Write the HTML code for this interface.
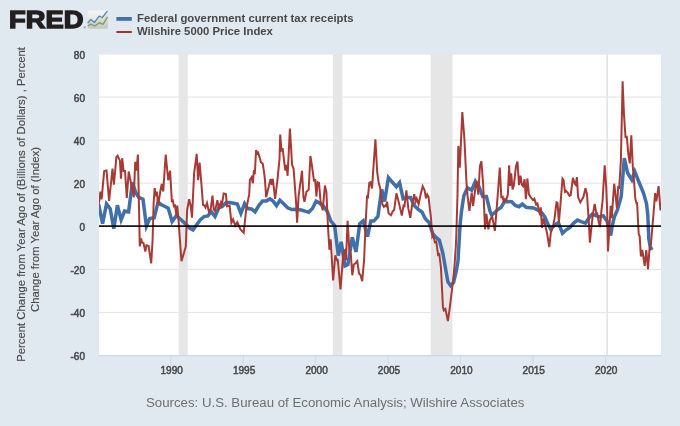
<!DOCTYPE html>
<html><head><meta charset="utf-8"><title>FRED Graph</title>
<style>
html,body{margin:0;padding:0;background:#e1e9f0;}
body{width:680px;height:426px;overflow:hidden;}
svg{display:block;will-change:transform;transform:translateZ(0);font-family:"Liberation Sans",Arial,Helvetica,sans-serif;}
.ax text{font-size:10.05px;fill:#484848;stroke:#484848;stroke-width:0.5px;}
</style></head><body>
<svg width="680" height="426" viewBox="0 0 680 426">
<defs>
<linearGradient id="ig" x1="0" y1="0" x2="0" y2="1"><stop offset="0" stop-color="#f6f6f5"/><stop offset="0.5" stop-color="#e6e6e5"/><stop offset="1" stop-color="#cfd0d0"/></linearGradient>
<clipPath id="pc"><rect x="99.0" y="54.0" width="562.0" height="301.3"/></clipPath>
</defs>
<rect x="0" y="0" width="680" height="426" fill="#e1e9f0"/>
<rect x="99.0" y="54.0" width="562.0" height="301.3" fill="#ffffff"/>
<rect x="178.7" y="54.0" width="9.1" height="301.3" fill="#e6e6e6"/><rect x="332.9" y="54.0" width="9.5" height="301.3" fill="#e6e6e6"/><rect x="430.7" y="54.0" width="21.8" height="301.3" fill="#e6e6e6"/><rect x="606.3" y="54.0" width="1.7" height="301.3" fill="#e6e6e6"/>
<rect x="99.0" y="53.38" width="562.0" height="1.2" fill="#e6e6e6"/><rect x="99.0" y="96.47" width="562.0" height="1.2" fill="#e6e6e6"/><rect x="99.0" y="139.55" width="562.0" height="1.2" fill="#e6e6e6"/><rect x="99.0" y="182.64" width="562.0" height="1.2" fill="#e6e6e6"/><rect x="99.0" y="268.82" width="562.0" height="1.2" fill="#e6e6e6"/><rect x="99.0" y="311.91" width="562.0" height="1.2" fill="#e6e6e6"/>
<rect x="99.0" y="355.0" width="562.0" height="1.2" fill="#ccd6eb"/>
<rect x="170.4" y="355.3" width="1" height="9.5" fill="#ccd6eb"/><rect x="242.8" y="355.3" width="1" height="9.5" fill="#ccd6eb"/><rect x="315.2" y="355.3" width="1" height="9.5" fill="#ccd6eb"/><rect x="387.7" y="355.3" width="1" height="9.5" fill="#ccd6eb"/><rect x="460.1" y="355.3" width="1" height="9.5" fill="#ccd6eb"/><rect x="532.5" y="355.3" width="1" height="9.5" fill="#ccd6eb"/><rect x="604.9" y="355.3" width="1" height="9.5" fill="#ccd6eb"/>
<g clip-path="url(#pc)">
<polyline fill="none" stroke="#4070aa" stroke-width="3.5" stroke-linejoin="miter" stroke-miterlimit="4.0" stroke-linecap="butt" points="98.6,204.4 102.6,223.6 106.5,203.9 110.2,208.8 113.8,228.7 117.4,205.3 121.1,219.9 124.6,211.0 128.6,211.8 132.4,182.6 135.8,192.8 138.7,197.3 143.0,199.2 146.4,226.2 149.7,218.5 154.2,217.7 158.1,202.1 160.8,204.4 164.5,206.2 168.2,208.1 172.1,221.5 176.4,215.6 180.0,218.7 183.8,222.2 186.8,225.2 190.0,228.3 193.0,229.9 196.7,224.8 200.4,219.6 204.1,216.6 207.8,215.9 211.4,211.7 215.0,216.5 218.8,207.8 222.5,206.3 226.2,202.6 229.9,202.6 233.6,203.3 237.3,204.1 240.9,213.4 244.6,203.6 247.7,208.5 251.4,208.9 255.1,211.8 258.8,205.5 262.5,201.1 266.2,201.1 269.9,198.9 273.1,201.1 276.5,205.7 279.9,200.3 283.9,204.1 287.6,207.8 291.7,209.5 295.4,209.2 301.3,210.0 305.7,211.4 308.7,212.2 312.4,208.5 316.1,201.1 319.8,203.3 323.5,206.3 327.2,211.4 330.9,221.1 334.6,225.5 338.3,255.6 341.2,241.8 345.0,265.9 347.9,264.6 352.3,237.4 356.0,251.9 359.7,224.0 363.2,220.9 367.5,236.6 370.8,221.1 373.8,221.1 377.9,216.5 381.7,189.3 384.6,201.6 388.4,177.5 391.3,181.0 396.4,186.7 399.6,182.7 403.1,198.7 406.8,197.5 410.5,197.5 414.2,205.5 417.9,209.1 422.0,212.0 425.3,218.7 429.0,222.4 432.7,233.5 435.7,237.2 439.3,240.1 442.9,253.5 444.9,265.0 447.9,281.9 450.7,285.7 453.6,282.5 456.3,271.0 458.0,261.0 460.1,224.6 461.5,211.3 463.8,196.0 467.4,187.7 471.7,190.2 475.4,181.3 479.0,186.7 482.8,196.6 486.4,196.6 490.1,211.5 491.6,214.9 493.8,213.5 497.5,209.8 501.0,207.6 504.5,201.7 507.9,201.5 511.6,201.8 515.3,205.4 519.0,206.7 522.4,204.1 526.2,207.3 530.1,207.7 533.5,208.0 537.5,209.9 541.2,212.0 544.9,217.2 547.8,223.8 550.7,229.3 554.5,225.0 558.4,222.6 562.5,233.3 566.3,229.8 570.0,227.5 573.7,223.1 577.4,220.1 581.1,221.6 585.5,223.1 588.8,218.0 592.2,214.2 595.9,215.7 599.6,216.9 603.3,215.7 607.0,220.9 610.7,235.5 612.2,226.0 614.3,217.0 617.6,209.5 621.2,196.5 624.3,158.2 627.6,173.0 631.8,179.7 634.8,171.6 638.9,182.0 643.4,192.8 646.5,203.5 647.8,215.0 648.8,238.6 650.5,248.7 652.7,247.5"/>
<polyline fill="none" stroke="#a83a36" stroke-width="2.0" stroke-linejoin="miter" stroke-miterlimit="4" stroke-linecap="butt" points="98.6,206.0 100.4,191.7 101.6,199.3 104.2,171.0 106.5,170.4 109.1,201.0 112.5,168.5 113.9,184.7 116.4,157.0 117.6,155.8 119.9,160.7 121.0,178.8 122.2,158.2 123.6,171.0 125.0,171.0 126.8,198.0 128.7,171.5 131.0,183.0 133.8,197.3 135.2,161.9 136.4,170.6 137.9,154.5 139.8,246.4 141.2,238.4 142.0,242.4 143.5,243.0 145.3,251.5 146.5,245.3 148.6,246.1 151.2,263.4 152.6,240.0 153.6,203.2 154.7,188.1 155.8,196.4 156.8,191.6 158.2,205.6 160.4,190.5 161.8,183.9 163.2,191.5 165.7,154.5 168.2,180.2 170.1,170.8 171.9,202.1 172.7,199.3 173.9,206.2 175.0,205.6 176.5,216.1 177.3,205.7 178.7,222.9 180.3,245.0 181.5,261.2 183.2,255.5 185.8,246.5 187.1,210.2 189.2,199.3 190.7,206.0 192.0,217.6 194.1,173.3 196.7,153.8 198.1,180.2 199.6,162.6 201.5,185.0 203.0,204.8 204.5,205.5 205.5,207.5 207.0,203.0 209.0,212.3 210.7,209.0 212.5,195.6 213.7,209.2 215.0,211.1 217.4,200.1 218.8,208.1 220.8,202.4 221.8,205.1 223.7,193.5 225.9,194.1 227.0,206.2 229.6,205.5 231.4,222.8 233.1,219.3 235.2,225.6 237.3,222.1 240.3,229.2 243.7,232.8 246.2,209.2 249.2,194.4 249.9,179.9 251.6,177.3 252.9,183.2 253.9,170.0 254.8,174.3 256.1,150.1 257.3,153.3 258.2,152.6 261.0,162.2 262.8,163.7 264.7,177.0 266.2,197.3 268.4,188.1 270.6,178.9 271.7,184.7 272.8,178.9 275.1,198.9 277.3,181.4 279.5,159.2 280.2,134.5 281.5,150.4 282.8,149.5 284.3,163.0 285.4,170.6 286.4,164.8 287.6,175.8 289.9,128.5 292.1,165.1 293.6,168.8 296.1,203.0 297.1,222.8 298.6,196.0 302.0,170.8 303.5,197.7 304.5,201.7 306.4,191.8 308.7,189.6 310.4,156.0 312.0,166.0 313.9,180.5 315.2,180.1 316.4,196.5 317.6,182.3 319.0,182.9 320.5,200.7 322.7,210.3 324.9,185.6 326.4,192.0 327.9,225.0 329.4,249.8 330.7,239.2 333.1,280.4 335.3,255.4 337.1,260.4 337.8,260.2 340.5,289.3 343.4,252.0 344.7,250.6 346.0,260.3 347.6,220.8 349.3,249.8 350.8,254.0 352.3,275.3 353.8,264.6 355.7,263.0 357.3,261.1 359.0,273.5 360.5,275.0 362.2,281.2 364.1,260.0 365.6,224.0 367.1,195.2 367.8,198.7 369.3,182.9 370.5,182.3 372.0,188.4 375.4,139.3 377.2,172.2 378.7,182.5 380.2,188.5 382.4,204.3 383.9,206.9 385.3,205.4 385.9,206.0 387.1,201.7 388.6,213.5 391.0,215.3 392.7,211.3 394.2,209.8 396.4,193.3 398.7,202.0 401.8,215.6 403.5,205.6 404.5,206.0 406.4,190.4 408.3,208.4 410.3,217.9 412.0,206.0 414.2,194.1 415.7,201.3 416.7,198.6 418.6,204.3 420.5,195.0 422.7,186.2 424.5,190.0 426.0,198.3 427.2,194.6 428.6,197.3 430.0,209.8 430.9,217.2 432.3,236.7 433.3,235.2 434.9,242.2 436.3,241.7 438.1,254.9 439.3,254.2 441.0,268.0 442.9,306.9 443.9,310.4 445.4,309.0 447.9,321.1 449.9,306.9 452.3,286.9 454.3,269.0 455.9,245.0 456.4,232.0 457.5,195.0 458.3,145.9 459.8,167.6 462.3,112.1 464.4,138.8 466.1,174.7 466.5,182.5 467.7,197.3 469.4,210.9 471.7,192.6 473.1,205.8 475.7,185.5 476.8,181.5 478.3,194.7 479.9,166.3 481.4,161.4 483.2,185.0 485.0,229.3 486.4,213.9 488.4,229.3 490.0,220.0 492.2,216.8 494.9,230.8 496.8,206.8 498.5,185.0 499.8,167.5 501.3,197.1 502.7,196.7 503.8,202.8 505.0,199.2 506.1,200.5 507.9,194.4 509.1,165.2 510.1,185.8 511.2,173.4 512.6,189.5 513.8,185.5 516.0,166.3 517.5,161.5 519.0,185.1 520.5,175.6 521.9,184.8 523.2,186.3 524.6,179.3 525.9,199.1 527.4,178.5 528.9,194.4 530.8,197.3 533.0,200.1 534.4,198.7 536.1,204.5 537.4,203.5 539.0,210.7 540.1,215.3 540.8,207.3 541.9,227.8 543.4,218.4 545.6,226.8 547.1,233.5 549.3,247.1 550.8,232.7 553.0,226.8 554.5,218.7 556.5,202.4 557.5,202.8 558.9,222.7 560.4,205.0 562.5,178.7 563.6,180.3 565.0,191.9 566.0,190.9 567.8,192.9 569.5,195.9 570.7,195.1 572.9,177.8 574.9,184.0 575.7,184.8 576.9,177.1 578.1,197.3 580.3,202.3 583.3,197.3 585.5,188.2 587.0,194.4 588.8,221.6 589.9,242.6 591.4,227.5 592.9,214.2 594.7,204.0 596.4,214.0 597.2,213.7 598.8,222.4 600.0,227.1 601.5,209.8 602.5,201.8 604.7,165.2 606.2,187.0 607.2,212.0 608.0,251.5 609.2,232.0 610.7,205.8 611.8,218.2 613.0,200.0 614.2,183.7 615.8,197.3 616.9,208.3 618.2,187.3 619.2,187.7 620.9,160.0 622.6,81.3 624.0,115.0 625.5,137.1 626.8,136.8 628.4,154.6 629.8,163.4 631.3,135.4 632.8,167.0 634.1,182.0 635.3,198.7 636.4,203.2 637.1,203.1 638.7,234.0 639.7,236.3 640.9,256.5 642.3,250.0 644.7,265.8 646.3,250.0 648.0,269.3 649.4,250.3 651.0,243.3 653.4,215.2 655.1,193.2 656.4,201.4 658.6,186.2 660.5,210.5"/>
</g>
<rect x="99.0" y="225.3" width="562.0" height="1.6" fill="#000"/>
<g class="ax"><text x="85" y="58.6" text-anchor="end">80</text><text x="85" y="101.7" text-anchor="end">60</text><text x="85" y="144.8" text-anchor="end">40</text><text x="85" y="187.8" text-anchor="end">20</text><text x="85" y="230.9" text-anchor="end">0</text><text x="85" y="274.0" text-anchor="end">-20</text><text x="85" y="317.1" text-anchor="end">-40</text><text x="85" y="360.2" text-anchor="end">-60</text><text x="171.7" y="373.5" text-anchor="middle">1990</text><text x="244.1" y="373.5" text-anchor="middle">1995</text><text x="316.6" y="373.5" text-anchor="middle">2000</text><text x="389.0" y="373.5" text-anchor="middle">2005</text><text x="461.4" y="373.5" text-anchor="middle">2010</text><text x="533.8" y="373.5" text-anchor="middle">2015</text><text x="606.2" y="373.5" text-anchor="middle">2020</text></g>
<!-- logo -->
<text x="9.0" y="28.3" font-size="24.4" font-weight="bold" fill="#231f20" stroke="#231f20" stroke-width="1.4" stroke-linejoin="miter" textLength="74.4" lengthAdjust="spacingAndGlyphs">FRED</text>
<text x="83.4" y="29" font-size="3.2" fill="#231f20">®</text>
<rect x="87.8" y="10.4" width="20.1" height="18.3" rx="1.8" fill="url(#ig)"/>
<polygon points="87.8,23.1 90.8,19.5 94.5,22.4 99.1,16.2 102.3,17.5 107.9,10.8 107.9,28.7 87.8,28.7" fill="#000" fill-opacity="0.05"/>
<polyline fill="none" stroke="#5488b5" stroke-width="1.3" stroke-linejoin="round" points="87.6,23.1 90.8,19.5 94.5,22.4 99.1,16.2 102.3,17.5 107.3,11.2"/>
<polyline fill="none" stroke="#74a64b" stroke-width="1.3" stroke-linejoin="round" points="87.6,26 90.8,24.1 94.8,26 99.4,22.7 103,24.4 107.6,16.8"/>
<!-- legend -->
<rect x="116.4" y="17.0" width="15.4" height="3.8" fill="#4070aa"/>
<rect x="116.4" y="31.0" width="15.4" height="2.0" fill="#a8302b"/>
<g font-size="11.33" font-weight="bold" fill="#484848">
<text x="137" y="22.3">Federal government current tax receipts</text>
<text x="137" y="35.3">Wilshire 5000 Price Index</text>
</g>
<!-- y axis title -->
<g font-size="11.33" fill="#484848" stroke="#484848" stroke-width="0.15">
<text transform="translate(24.6,204.4) rotate(-90)" text-anchor="middle">Percent Change from Year Ago of (Billions of Dollars) , Percent</text>
<text transform="translate(38.5,229.5) rotate(-90)" text-anchor="middle">Change from Year Ago of (Index)</text>
</g>
<text x="335.2" y="407.1" font-size="13.26" fill="#6e6e6e" text-anchor="middle">Sources: U.S. Bureau of Economic Analysis; Wilshire Associates</text>
</svg>
</body></html>
